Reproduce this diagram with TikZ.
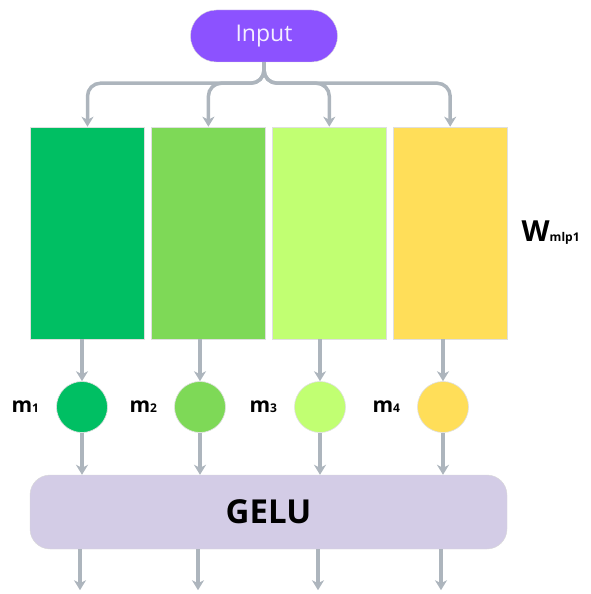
\documentclass[tikz,border=0pt]{standalone}
\usepackage{fontspec}
\setmainfont{Open Sans}
\usetikzlibrary{arrows.meta,positioning,calc}
\definecolor{inpurple}{HTML}{8C52FF}
\definecolor{wgreenA}{HTML}{00BF63}
\definecolor{wgreenB}{HTML}{7ED957}
\definecolor{wgreenC}{HTML}{C1FF72}
\definecolor{wyellow}{HTML}{FFDE59}
\definecolor{gelufill}{HTML}{D3CCE6}
\definecolor{linegray}{HTML}{ADB5BD}

\begin{document}
\begin{tikzpicture}[
    x=1pt, y=-1pt,
    node distance=6.3pt,
    inbox/.style={rectangle, draw=gray!30, fill=inpurple, rounded corners=26pt, minimum width=147pt, minimum height=52pt, text=white!90!inpurple, font=\fontsize{23}{23}\selectfont},
    wblock/.style={rectangle, draw=gray!25, line width=0.6pt, minimum width=114pt, minimum height=212pt, inner sep=0pt},
    mnode/.style={circle, draw=gray!25, line width=0.6pt, minimum size=51pt, inner sep=0pt},
    mlabel/.style={left=17pt of #1, font=\fontsize{21}{21}\selectfont\bfseries, inner sep=0pt},
    arrow/.style={-{Stealth[length=10pt, width=12pt, inset=3pt]}, line width=3.5pt, draw=linegray}
]
    \useasboundingbox (0,0) rectangle (590,594);

    \node[inbox] (input) at (264,36) {Input};

    \node[wblock, fill=wgreenA] (w1) at (87.5,233) {};
    \node[wblock, fill=wgreenB, right=of w1] (w2) {};
    \node[wblock, fill=wgreenC, right=of w2] (w3) {};
    \node[wblock, fill=wyellow, right=of w3] (w4) {};
    \node[right=14pt of w4, inner sep=0pt] (wlabel) {{\fontsize{29}{29}\selectfont\bfseries W}{\fontsize{12}{12}\selectfont\bfseries mlp1}};

    \node[mnode, fill=wgreenA] (m1) at (82,407) {};
    \node[mnode, fill=wgreenB] (m2) at (200,407) {};
    \node[mnode, fill=wgreenC] (m3) at (320,407) {};
    \node[mnode, fill=wyellow] (m4) at (443,407) {};
    \foreach \i in {1,...,4}
        \node[mlabel=m\i] (ml\i) {m{\fontsize{12}{12}\selectfont\bfseries\i}};

    \node[rectangle, draw=gray!30, fill=gelufill, rounded corners=20pt, minimum width=477pt, minimum height=74pt, font=\fontsize{33}{33}\selectfont\bfseries] (gelu) at (268.5,512) {GELU};

    % outputs
    \foreach \i in {1,...,4}
        \coordinate (out\i) at ($(m\i.center |- gelu.south)+(-2,41)$);

    % input fan-out
    \foreach \i in {1,...,4}
        \draw[arrow, rounded corners=13pt] (input.south) -- ++(0,21) -| (w\i.north);

    \foreach \i in {1,...,4} {
        \draw[arrow] (w\i.south -| m\i) -- (m\i.north);
        \draw[arrow] (m\i.south) -- (m\i.south |- gelu.north);
        \draw[arrow] ($(gelu.south -| m\i)+(-2,0)$) -- (out\i);
    }
\end{tikzpicture}
\end{document}
